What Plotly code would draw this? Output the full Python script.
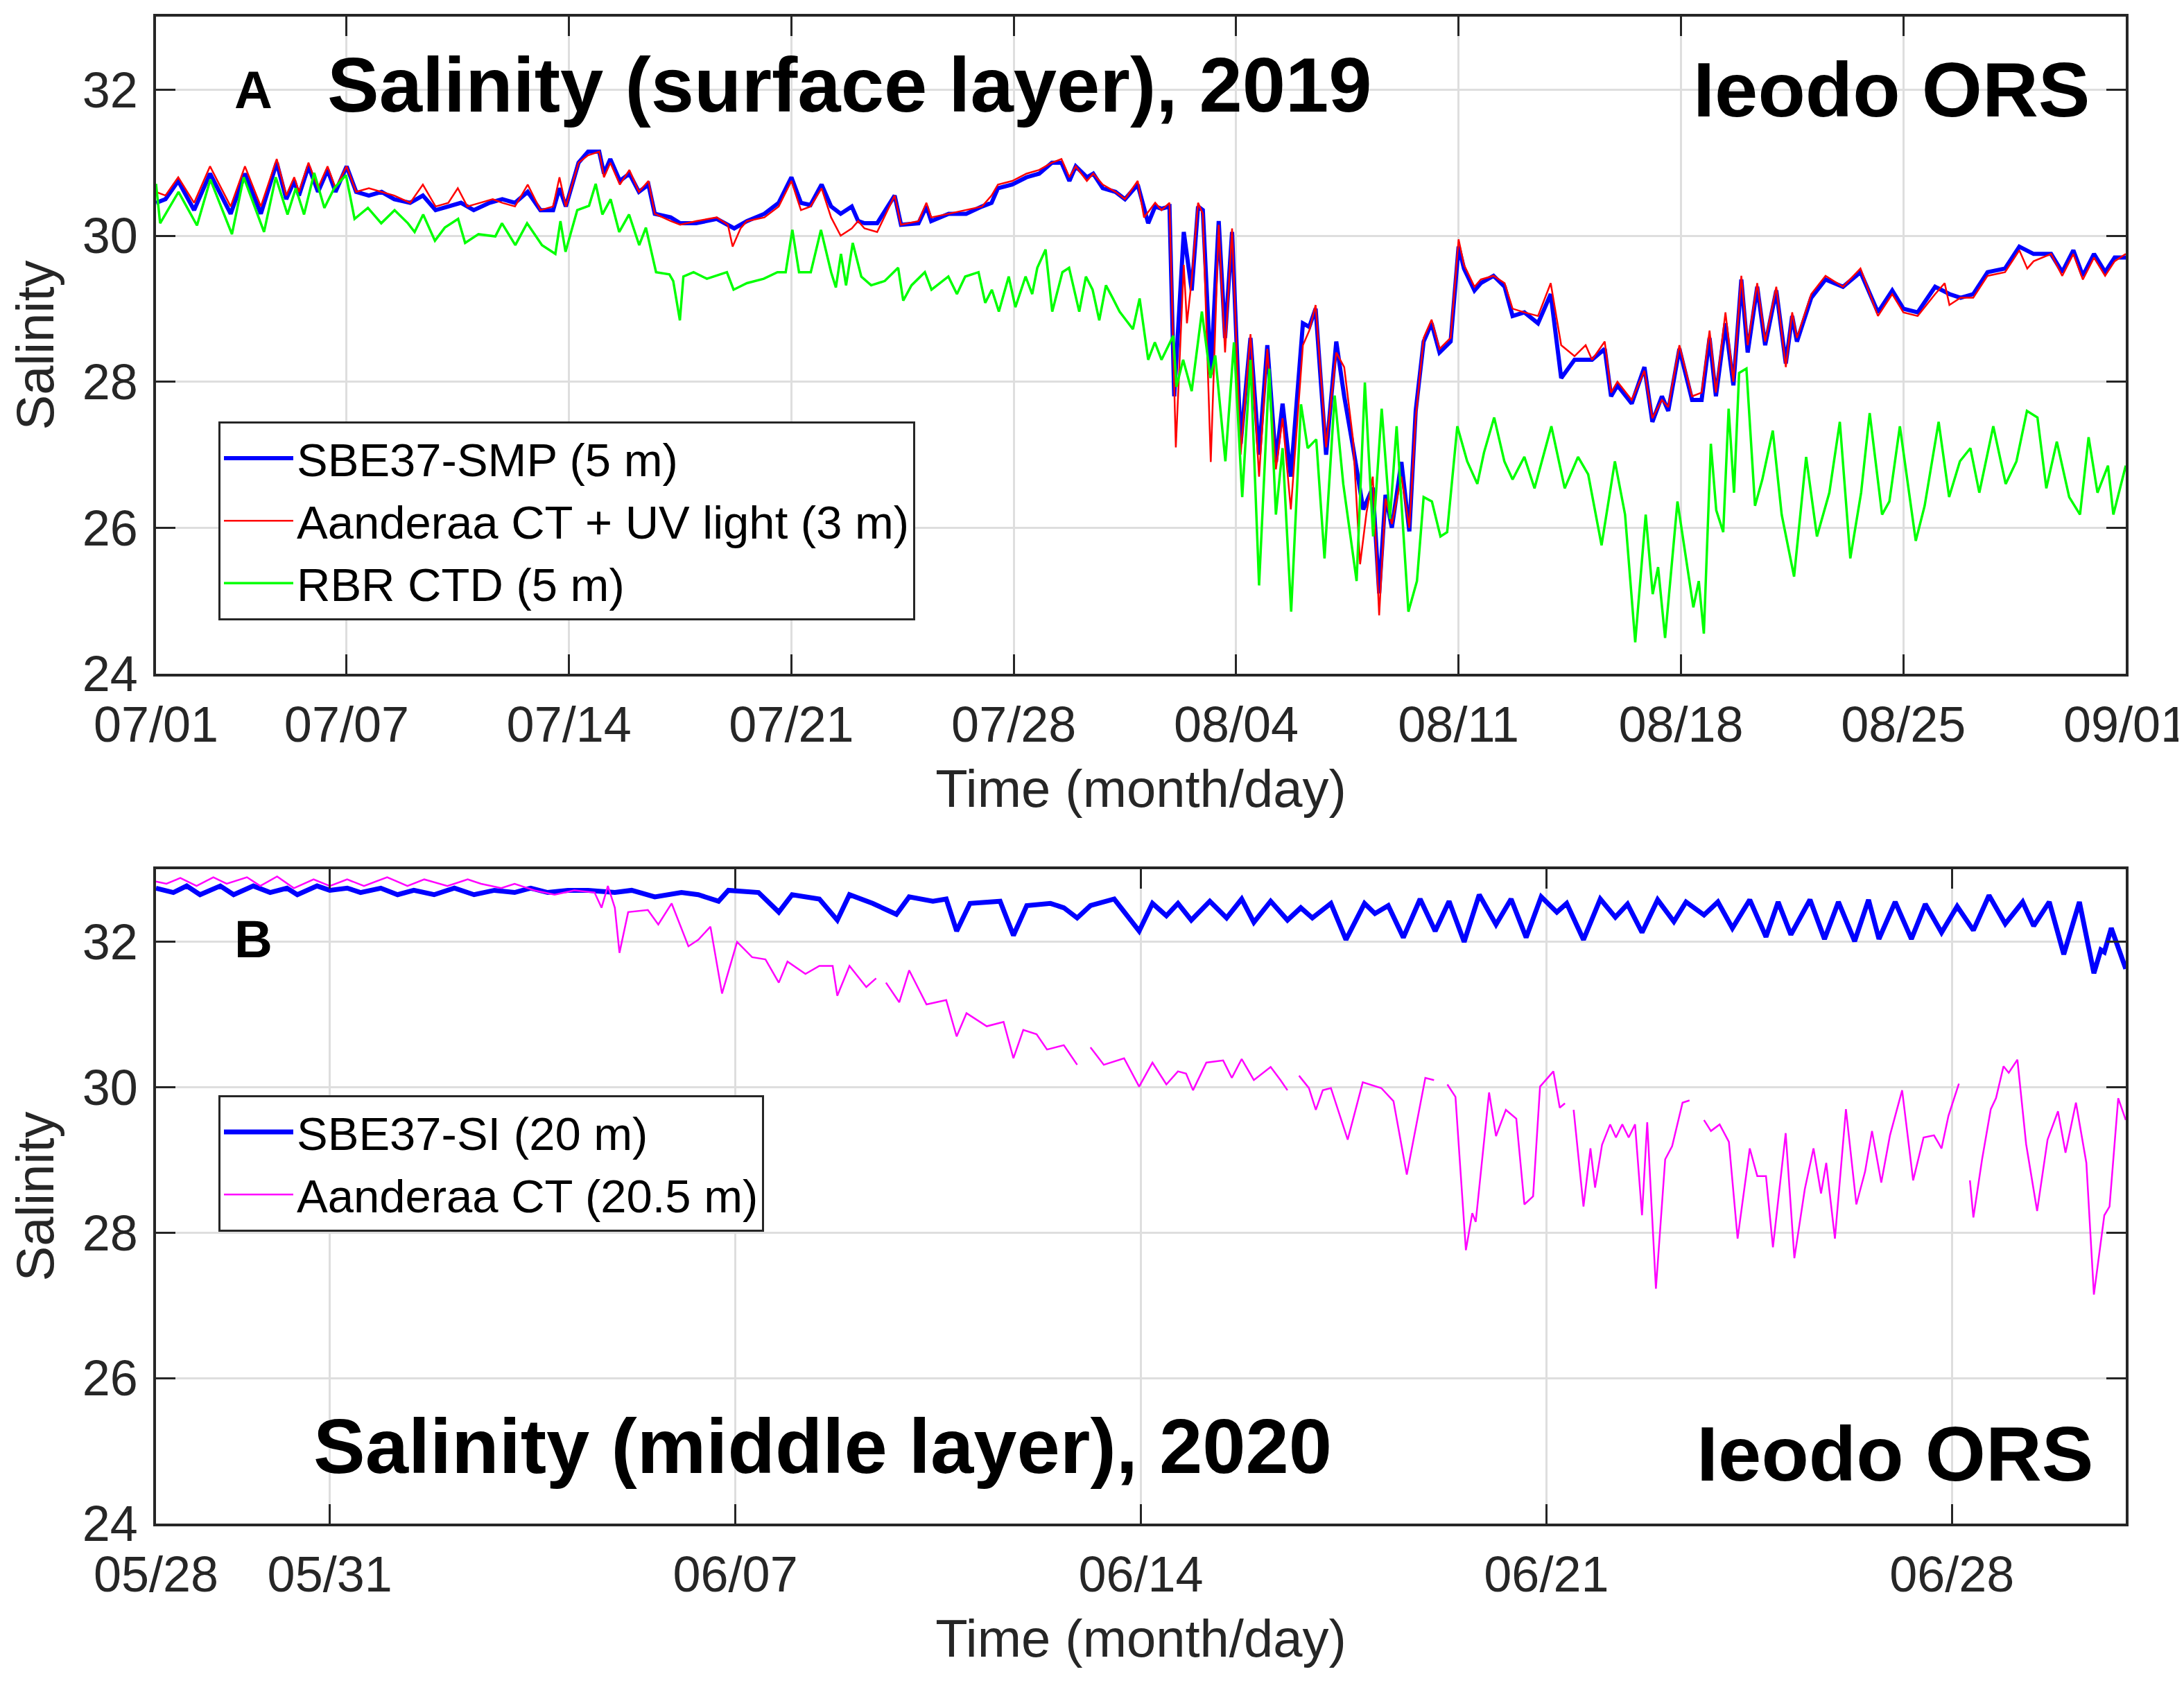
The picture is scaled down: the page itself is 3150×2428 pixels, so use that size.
import pandas as pd
import plotly.graph_objects as go
from plotly.subplots import make_subplots

# ---- panel A: surface layer, 2019 (days after 07/01 00:00) ----
smp_day = [0.0, 0.3, 0.7, 1.2, 1.7, 2.35, 2.8, 3.3, 3.8, 4.1, 4.35, 4.5, 4.8, 5.1, 5.4, 5.65, 6.0, 6.3,
           6.7, 7.1, 7.5, 8.0, 8.4, 8.8, 9.2, 9.6, 10.0, 10.5, 10.9, 11.3, 11.7, 12.1, 12.5, 12.7, 12.9,
           13.3, 13.6, 13.95, 14.1, 14.3, 14.6, 14.9, 15.2, 15.5, 15.7, 16.2, 16.5, 17.0, 17.65, 18.2,
           18.6, 19.15, 19.6, 20.0, 20.3, 20.6, 20.95, 21.25, 21.55, 21.9, 22.1, 22.3, 22.7, 23.25,
           23.45, 24.0, 24.25, 24.4, 24.95, 25.5, 26.0, 26.3, 26.5, 26.95, 27.4, 27.8, 28.2, 28.5,
           28.75, 28.95, 29.3, 29.5, 29.8, 30.2, 30.5, 30.9, 31.23, 31.45, 31.65, 31.9, 32.05, 32.35,
           32.6, 32.8, 32.95, 33.2, 33.45, 33.65, 33.87, 34.14, 34.45, 34.72, 34.98, 35.25, 35.46,
           35.72, 36.1, 36.3, 36.5, 36.83, 37.15, 37.4, 37.68, 38.0, 38.3, 38.5, 38.7, 38.9, 39.2,
           39.45, 39.65, 39.9, 40.15, 40.4, 40.75, 41.0, 41.17, 41.5, 41.7, 42.1, 42.45, 42.7, 43.07,
           43.5, 43.9, 44.23, 44.65, 45.2, 45.6, 45.8, 46.0, 46.45, 46.85, 47.1, 47.4, 47.6, 47.95,
           48.35, 48.65, 48.9, 49.1, 49.4, 49.65, 49.9, 50.1, 50.4, 50.65, 51.0, 51.3, 51.5, 51.65,
           52.1, 52.55, 53.1, 53.65, 54.2, 54.65, 55.0, 55.45, 56.0, 56.45, 56.8, 57.2, 57.65, 58.2,
           58.65, 59.1, 59.65, 60.0, 60.35, 60.65, 61.0, 61.35, 61.65, 62.0]
smp_sal = [30.45, 30.5, 30.75, 30.35, 30.85, 30.3, 30.85, 30.3, 31.0, 30.5, 30.75, 30.55, 30.95, 30.6,
           30.9, 30.6, 30.95, 30.6, 30.55, 30.6, 30.5, 30.45, 30.55, 30.35, 30.4, 30.45, 30.35, 30.45,
           30.5, 30.45, 30.6, 30.35, 30.35, 30.65, 30.4, 31.0, 31.15, 31.15, 30.85, 31.05, 30.75,
           30.85, 30.6, 30.7, 30.3, 30.25, 30.17, 30.17, 30.23, 30.1, 30.2, 30.3, 30.45, 30.8, 30.45,
           30.42, 30.7, 30.4, 30.3, 30.4, 30.2, 30.17, 30.17, 30.55, 30.15, 30.17, 30.4, 30.2, 30.3,
           30.3, 30.4, 30.45, 30.65, 30.7, 30.8, 30.85, 31.0, 31.0, 30.75, 30.95, 30.8, 30.85, 30.65,
           30.6, 30.5, 30.7, 30.17, 30.4, 30.37, 30.4, 27.8, 30.05, 29.25, 30.4, 30.35, 28.1, 30.2,
           28.6, 30.05, 27.15, 28.6, 27.0, 28.5, 26.9, 27.7, 26.7, 28.8, 28.75, 29.0, 27.0, 28.55,
           27.8, 27.1, 26.25, 26.55, 25.1, 26.45, 26.0, 26.9, 25.95, 27.6, 28.55, 28.8, 28.4, 28.55,
           29.85, 29.55, 29.25, 29.35, 29.45, 29.3, 28.9, 28.95, 28.8, 29.2, 28.05, 28.3, 28.3, 28.45,
           27.8, 27.95, 27.7, 28.2, 27.45, 27.8, 27.6, 28.45, 27.75, 27.75, 28.6, 27.8, 28.8, 27.95,
           29.4, 28.4, 29.3, 28.5, 29.25, 28.25, 28.9, 28.55, 29.15, 29.4, 29.3, 29.5, 28.95, 29.25,
           29.0, 28.95, 29.3, 29.2, 29.15, 29.2, 29.5, 29.55, 29.85, 29.75, 29.75, 29.5, 29.8, 29.45,
           29.75, 29.5, 29.7, 29.7]

uv_day = [0.0, 0.3, 0.7, 1.2, 1.7, 2.35, 2.8, 3.3, 3.8, 4.1, 4.35, 4.5, 4.8, 5.1, 5.4, 5.65, 6.0, 6.3,
          6.7, 7.1, 7.5, 8.0, 8.4, 8.8, 9.2, 9.5, 9.8, 10.2, 10.6, 10.9, 11.3, 11.7, 12.1, 12.5, 12.7,
          12.9, 13.3, 13.6, 13.95, 14.1, 14.3, 14.6, 14.9, 15.2, 15.5, 15.7, 16.2, 16.5, 17.0, 17.65,
          18.0, 18.15, 18.4, 18.6, 19.15, 19.6, 20.0, 20.3, 20.6, 20.95, 21.25, 21.55, 21.9, 22.1,
          22.3, 22.7, 23.25, 23.45, 24.0, 24.25, 24.4, 24.95, 25.5, 26.0, 26.3, 26.5, 26.95, 27.4,
          27.8, 28.2, 28.5, 28.75, 28.95, 29.3, 29.5, 29.8, 30.2, 30.5, 30.9, 31.1, 31.45, 31.65,
          31.9, 32.1, 32.35, 32.45, 32.6, 32.8, 32.95, 33.2, 33.45, 33.65, 33.87, 34.14, 34.45, 34.72,
          34.98, 35.25, 35.46, 35.72, 36.1, 36.3, 36.5, 36.83, 37.15, 37.4, 37.68, 37.9, 38.1, 38.3,
          38.5, 38.7, 38.9, 39.2, 39.45, 39.65, 39.9, 40.15, 40.4, 40.75, 41.0, 41.17, 41.5, 41.7,
          42.1, 42.45, 42.7, 43.07, 43.5, 43.9, 44.23, 44.65, 45.0, 45.2, 45.6, 45.8, 46.0, 46.45,
          46.85, 47.1, 47.4, 47.6, 47.95, 48.35, 48.65, 48.9, 49.1, 49.4, 49.65, 49.9, 50.1, 50.4,
          50.65, 51.0, 51.3, 51.5, 51.65, 52.1, 52.55, 53.1, 53.65, 54.2, 54.65, 55.0, 55.45, 56.0,
          56.3, 56.45, 56.8, 57.2, 57.65, 58.2, 58.65, 58.9, 59.1, 59.65, 60.0, 60.35, 60.65, 61.0,
          61.35, 61.65, 62.0]
uv_sal = [30.6, 30.55, 30.8, 30.45, 30.95, 30.4, 30.95, 30.4, 31.05, 30.55, 30.8, 30.6, 31.0, 30.65,
          30.95, 30.65, 30.95, 30.6, 30.65, 30.6, 30.55, 30.45, 30.7, 30.4, 30.45, 30.65, 30.4, 30.45,
          30.5, 30.45, 30.4, 30.7, 30.35, 30.4, 30.8, 30.4, 31.0, 31.1, 31.15, 30.8, 31.0, 30.7, 30.9,
          30.6, 30.75, 30.3, 30.2, 30.15, 30.2, 30.25, 30.15, 29.85, 30.1, 30.2, 30.25, 30.4, 30.75,
          30.35, 30.4, 30.65, 30.25, 30.0, 30.1, 30.2, 30.1, 30.05, 30.55, 30.15, 30.2, 30.45, 30.25,
          30.3, 30.35, 30.4, 30.55, 30.7, 30.75, 30.85, 30.9, 31.0, 31.05, 30.8, 30.95, 30.75, 30.85,
          30.7, 30.6, 30.5, 30.75, 30.25, 30.45, 30.35, 30.45, 27.1, 29.6, 28.8, 29.4, 30.45, 30.3,
          26.9, 30.15, 28.4, 30.1, 27.0, 28.65, 26.7, 28.45, 26.8, 27.5, 26.25, 28.5, 28.7, 29.05,
          27.1, 28.4, 28.2, 27.2, 25.5, 26.2, 26.7, 24.8, 26.4, 26.05, 26.7, 26.0, 27.5, 28.6, 28.85,
          28.45, 28.6, 29.95, 29.6, 29.3, 29.4, 29.45, 29.35, 29.0, 28.95, 28.9, 29.35, 28.5, 28.35,
          28.5, 28.3, 28.55, 27.85, 28.0, 27.75, 28.15, 27.5, 27.75, 27.65, 28.5, 27.8, 27.85, 28.7,
          27.85, 28.95, 28.0, 29.45, 28.5, 29.35, 28.55, 29.3, 28.2, 28.95, 28.6, 29.2, 29.45, 29.3,
          29.55, 28.9, 29.2, 28.95, 28.9, 29.2, 29.35, 29.05, 29.15, 29.15, 29.45, 29.5, 29.8, 29.55,
          29.65, 29.75, 29.45, 29.75, 29.4, 29.7, 29.45, 29.65, 29.75]

rbr_day = [0.0, 0.13, 0.71, 1.29, 1.71, 2.39, 2.76, 3.4, 3.77, 4.14, 4.4, 4.66, 4.98, 5.3, 5.61, 5.98,
           6.25, 6.67, 7.09, 7.51, 7.93, 8.14, 8.41, 8.78, 9.09, 9.51, 9.73, 10.15, 10.68, 10.89,
           11.31, 11.68, 12.15, 12.57, 12.73, 12.89, 13.26, 13.63, 13.84, 14.05, 14.31, 14.58, 14.89,
           15.21, 15.42, 15.74, 16.16, 16.28, 16.49, 16.6, 16.92, 17.34, 17.97, 18.18, 18.6, 19.13,
           19.56, 19.82, 20.03, 20.24, 20.61, 20.93, 21.25, 21.4, 21.56, 21.72, 21.93, 22.2, 22.51,
           22.94, 23.36, 23.52, 23.78, 24.2, 24.41, 24.94, 25.21, 25.47, 25.89, 26.1, 26.31, 26.53,
           26.84, 27.05, 27.37, 27.58, 27.74, 28.0, 28.21, 28.53, 28.74, 29.06, 29.27, 29.48, 29.69,
           29.9, 30.12, 30.33, 30.54, 30.75, 30.96, 31.23, 31.44, 31.65, 32.02, 32.12, 32.33, 32.6,
           32.92, 33.19, 33.34, 33.66, 33.93, 34.19, 34.45, 34.72, 35.04, 35.25, 35.46, 35.73, 36.04,
           36.25, 36.52, 36.78, 37.1, 37.37, 37.79, 38.05, 38.31, 38.58, 38.84, 39.05, 39.42, 39.69,
           39.9, 40.16, 40.43, 40.64, 40.96, 41.27, 41.59, 41.8, 42.12, 42.44, 42.7, 43.07, 43.39,
           43.92, 44.34, 44.76, 45.08, 45.5, 45.92, 46.24, 46.56, 46.89, 47.11, 47.28, 47.5, 47.89,
           48.39, 48.56, 48.72, 48.94, 49.11, 49.33, 49.5, 49.67, 49.83, 50.06, 50.33, 50.56, 50.89,
           51.17, 51.56, 51.94, 52.28, 52.67, 53.0, 53.33, 53.67, 53.94, 54.33, 54.56, 54.89, 55.39,
           55.67, 56.11, 56.44, 56.78, 57.11, 57.39, 57.83, 58.22, 58.56, 58.89, 59.22, 59.5, 59.83,
           60.22, 60.56, 60.83, 61.11, 61.44, 61.61, 62.0]
rbr_sal = [30.71, 30.17, 30.6, 30.14, 30.77, 30.02, 30.8, 30.05, 30.8, 30.29, 30.65, 30.29, 30.86,
           30.38, 30.65, 30.83, 30.23, 30.38, 30.17, 30.35, 30.17, 30.05, 30.29, 29.93, 30.11, 30.23,
           29.9, 30.02, 29.99, 30.17, 29.87, 30.17, 29.87, 29.75, 30.2, 29.78, 30.35, 30.41, 30.71,
           30.29, 30.5, 30.05, 30.29, 29.87, 30.11, 29.5, 29.47, 29.38, 28.84, 29.44, 29.5, 29.41,
           29.5, 29.26, 29.35, 29.41, 29.5, 29.5, 30.08, 29.5, 29.5, 30.08, 29.5, 29.29, 29.75, 29.32,
           29.9, 29.44, 29.32, 29.38, 29.56, 29.11, 29.32, 29.5, 29.26, 29.44, 29.2, 29.44, 29.5,
           29.08, 29.26, 28.96, 29.44, 29.02, 29.44, 29.2, 29.56, 29.81, 28.96, 29.5, 29.56, 28.96,
           29.44, 29.26, 28.84, 29.32, 29.14, 28.96, 28.84, 28.72, 29.14, 28.3, 28.54, 28.3, 28.63,
           27.93, 28.3, 27.87, 28.96, 28.05, 28.36, 26.91, 28.54, 26.42, 28.3, 25.21, 28.18, 26.18,
           27.09, 24.85, 27.69, 27.09, 27.21, 25.58, 27.81, 26.6, 25.27, 27.99, 25.88, 27.63, 26.12,
           27.39, 24.85, 25.27, 26.42, 26.36, 25.88, 25.94, 27.39, 26.91, 26.6, 27.03, 27.51, 26.91,
           26.66, 26.97, 26.54, 27.39, 26.54, 26.97, 26.73, 25.76, 26.91, 26.18, 24.43, 26.18, 25.09,
           25.46, 24.49, 26.36, 24.91, 25.27, 24.55, 27.15, 26.24, 25.94, 27.63, 26.48, 28.12, 28.18,
           26.3, 26.66, 27.33, 26.18, 25.33, 26.97, 25.88, 26.48, 27.45, 25.58, 26.48, 27.57, 26.18,
           26.36, 27.39, 25.82, 26.3, 27.45, 26.42, 26.91, 27.09, 26.48, 27.39, 26.6, 26.91, 27.6,
           27.51, 26.54, 27.18, 26.42, 26.18, 27.24, 26.48, 26.85, 26.18, 26.85]

# ---- panel B: middle layer, 2020 (days after 05/28 00:00), None = gap ----
si_day = [0.0, 0.3, 0.53, 0.76, 1.11, 1.34, 1.68, 1.97, 2.26, 2.44, 2.78, 3.0, 3.3, 3.53, 3.88, 4.17,
          4.45, 4.8, 5.15, 5.49, 5.84, 6.19, 6.47, 6.76, 7.11, 7.46, 7.92, 8.21, 8.61, 9.07, 9.36,
          9.71, 9.88, 10.4, 10.75, 10.98, 11.45, 11.76, 11.97, 12.37, 12.78, 13.0, 13.41, 13.64,
          13.82, 14.05, 14.57, 14.8, 15.03, 15.44, 15.67, 15.9, 16.13, 16.54, 16.97, 17.2, 17.44,
          17.64, 17.87, 18.19, 18.48, 18.74, 18.95, 19.24, 19.53, 19.76, 19.96, 20.28, 20.54, 20.86,
          21.04, 21.27, 21.53, 21.82, 22.08, 22.32, 22.58, 22.84, 23.13, 23.39, 23.65, 23.91, 24.18,
          24.35, 24.64, 24.93, 25.19, 25.4, 25.65, 25.92, 26.2, 26.41, 26.72, 26.96, 27.21, 27.51,
          27.79, 28.0, 28.22, 28.55, 28.8, 29.04, 29.32, 29.56, 29.74, 30.02, 30.3, 30.54, 30.82,
          31.09, 31.37, 31.64, 31.92, 32.22, 32.41, 32.68, 32.93, 33.2, 33.45, 33.57, 33.63, 33.75,
          34.0]
si_sal = [32.74, 32.68, 32.77, 32.65, 32.77, 32.65, 32.77, 32.68, 32.74, 32.65, 32.77, 32.71, 32.74,
          32.68, 32.74, 32.65, 32.71, 32.65, 32.74, 32.65, 32.71, 32.68, 32.74, 32.68, 32.71, 32.71,
          32.68, 32.71, 32.62, 32.68, 32.65, 32.56, 32.71, 32.68, 32.41, 32.65, 32.59, 32.3, 32.65,
          32.53, 32.38, 32.62, 32.56, 32.59, 32.15, 32.53, 32.56, 32.09, 32.5, 32.53, 32.47, 32.33,
          32.5, 32.59, 32.15, 32.53, 32.36, 32.53, 32.3, 32.56, 32.33, 32.59, 32.27, 32.56, 32.3,
          32.47, 32.33, 32.53, 32.03, 32.53, 32.39, 32.5, 32.06, 32.59, 32.15, 32.56, 32.0, 32.65,
          32.24, 32.59, 32.06, 32.62, 32.41, 32.53, 32.03, 32.59, 32.34, 32.52, 32.13, 32.58, 32.28,
          32.55, 32.37, 32.55, 32.19, 32.58, 32.07, 32.55, 32.1, 32.58, 32.04, 32.55, 32.01, 32.58,
          32.04, 32.55, 32.04, 32.52, 32.13, 32.49, 32.16, 32.64, 32.25, 32.55, 32.22, 32.55, 31.83,
          32.55, 31.57, 31.89, 31.86, 32.19, 31.63]

ct_day = [0.0, 0.18, 0.42, 0.7, 0.99, 1.22, 1.57, 1.8, 2.09, 2.38, 2.72, 3.0, 3.3, 3.59, 3.99, 4.34,
          4.63, 5.03, 5.38, 5.61, 5.96, 6.19, 6.53, 6.88, 7.22, 7.57, 7.69, 7.8, 7.92, 8.0, 8.15,
          8.49, 8.67, 8.9, 9.19, 9.36, 9.57, 9.77, 10.03, 10.29, 10.52, 10.75, 10.9, 11.21, 11.45,
          11.68, 11.76, 11.97, 12.26, 12.43, None, 12.6, 12.83, 13.0, 13.3, 13.64, 13.82, 13.99,
          14.34, 14.63, 14.8, 14.97, 15.2, 15.38, 15.67, 15.9, None, 16.13, 16.36, 16.71, 16.97,
          17.2, 17.44, 17.64, 17.78, 17.9, 18.13, 18.42, 18.57, 18.74, 18.95, 19.24, 19.41, 19.53,
          None, 19.73, 19.9, 20.02, 20.14, 20.28, 20.57, 20.83, 21.15, 21.36, 21.59, 21.91, 22.06,
          None, 22.29, 22.43, 22.61, 22.72, 22.78, 23.01, 23.13, 23.3, 23.48, 23.62, 23.77, 23.89,
          24.12, 24.23, 24.32, None, 24.47, 24.64, 24.76, 24.84, 24.96, 25.1, 25.2, 25.31, 25.42,
          25.53, 25.65, 25.74, 25.89, 26.05, 26.17, 26.35, 26.47, None, 26.72, 26.84, 26.99, 27.15,
          27.3, 27.51, 27.64, 27.79, 27.91, 28.13, 28.28, 28.46, 28.61, 28.74, 28.83, 28.98, 29.17,
          29.35, 29.5, 29.62, 29.78, 29.93, 30.14, 30.33, 30.51, 30.69, 30.82, 30.94, 31.12, None,
          31.31, 31.37, 31.52, 31.67, 31.76, 31.89, 31.98, 32.13, 32.28, 32.47, 32.65, 32.83, 32.96,
          33.14, 33.32, 33.45, 33.63, 33.72, 33.87, 34.0]
ct_sal = [32.83, 32.8, 32.88, 32.77, 32.89, 32.8, 32.89, 32.77, 32.9, 32.74, 32.86, 32.77, 32.86,
          32.77, 32.89, 32.77, 32.86, 32.77, 32.86, 32.8, 32.74, 32.8, 32.71, 32.65, 32.71, 32.68,
          32.47, 32.77, 32.47, 31.85, 32.41, 32.44, 32.24, 32.53, 31.94, 32.03, 32.21, 31.29, 32.0,
          31.79, 31.76, 31.44, 31.73, 31.56, 31.67, 31.67, 31.26, 31.67, 31.38, 31.5, None, 31.44,
          31.17, 31.61, 31.14, 31.2, 30.7, 31.02, 30.84, 30.9, 30.4, 30.79, 30.73, 30.52, 30.58,
          30.31, None, 30.55, 30.31, 30.4, 30.01, 30.34, 30.04, 30.22, 30.19, 29.96, 30.34, 30.37,
          30.13, 30.39, 30.1, 30.28, 30.1, 29.96, None, 30.16, 29.99, 29.69, 29.96, 29.99, 29.28,
          30.07, 29.99, 29.81, 28.8, 30.13, 30.1, None, 30.04, 29.87, 27.76, 28.27, 28.15, 29.93,
          29.33, 29.69, 29.57, 28.39, 28.5, 30.01, 30.22, 29.72, 29.78, None, 29.69, 28.36, 29.16,
          28.62, 29.21, 29.49, 29.31, 29.49, 29.31, 29.49, 28.24, 29.52, 27.23, 29.01, 29.19, 29.79,
          29.82, None, 29.55, 29.4, 29.49, 29.25, 27.92, 29.16, 28.78, 28.78, 27.8, 29.37, 27.65,
          28.6, 29.16, 28.54, 28.96, 27.92, 29.7, 28.39, 28.84, 29.4, 28.69, 29.34, 29.96, 28.72,
          29.31, 29.34, 29.16, 29.61, 30.05, None, 28.72, 28.21, 29.01, 29.7, 29.85, 30.29, 30.2,
          30.38, 29.22, 28.3, 29.28, 29.67, 29.1, 29.79, 28.96, 27.15, 28.24, 28.36, 29.85, 29.55]

ticks_a = ["2019-07-01", "2019-07-07", "2019-07-14", "2019-07-21", "2019-07-28",
           "2019-08-04", "2019-08-11", "2019-08-18", "2019-08-25", "2019-09-01"]
ticks_b = ["2020-05-28", "2020-05-31", "2020-06-07", "2020-06-14", "2020-06-21", "2020-06-28"]


def to_time(start, days):
    t0 = pd.Timestamp(start)
    return [t0 + pd.Timedelta(days=d) if d is not None else None for d in days]


W, H = 3150, 2428
FONT = "Liberation Sans"
AX = "#262626"
GRID = "#DEDEDE"

fig = make_subplots(rows=2, cols=1)

fig.add_trace(go.Scatter(x=to_time("2019-07-01", smp_day), y=smp_sal, mode="lines",
                         name="SBE37-SMP (5 m)", line=dict(color="#0000FF", width=6),
                         legend="legend"), row=1, col=1)
fig.add_trace(go.Scatter(x=to_time("2019-07-01", uv_day), y=uv_sal, mode="lines",
                         name="Aanderaa CT + UV light (3 m)", line=dict(color="#FF0000", width=2.5),
                         legend="legend"), row=1, col=1)
fig.add_trace(go.Scatter(x=to_time("2019-07-01", rbr_day), y=rbr_sal, mode="lines",
                         name="RBR CTD (5 m)", line=dict(color="#00FF00", width=3.5),
                         legend="legend"), row=1, col=1)

fig.add_trace(go.Scatter(x=to_time("2020-05-28", si_day), y=si_sal, mode="lines",
                         name="SBE37-SI (20 m)", line=dict(color="#0000FF", width=7),
                         legend="legend2"), row=2, col=1)
fig.add_trace(go.Scatter(x=to_time("2020-05-28", ct_day), y=ct_sal, mode="lines",
                         name="Aanderaa CT (20.5 m)", line=dict(color="#FF00FF", width=2.5),
                         connectgaps=False, legend="legend2"), row=2, col=1)

x0, x1 = 217 / W, 3058 / W
dom_a = [1 - 964 / H, 1 - 16 / H]
dom_b = [1 - 2190 / H, 1 - 1246 / H]

axis_common = dict(
    showline=True, linecolor=AX, linewidth=3.5, mirror="ticks",
    ticks="inside", ticklen=28, tickwidth=3, tickcolor=AX,
    showgrid=True, gridcolor=GRID, gridwidth=2.5, zeroline=False, automargin=False,
    ticklabeloverflow="allow",
    tickfont=dict(family=FONT, size=72, color=AX),
)

fig.update_xaxes(axis_common)
fig.update_yaxes(axis_common)

fig.update_xaxes(row=1, col=1, domain=[x0, x1], type="date",
                 range=["2019-07-01", "2019-09-01"], tickvals=ticks_a, tickformat="%m/%d",
                 ticklabelstandoff=8,
                 title=dict(text="Time (month/day)", font=dict(family=FONT, size=76, color=AX),
                            standoff=28))
fig.update_xaxes(row=2, col=1, domain=[x0, x1], type="date",
                 range=["2020-05-28", "2020-07-01"], tickvals=ticks_b, tickformat="%m/%d",
                 ticklabelstandoff=8,
                 title=dict(text="Time (month/day)", font=dict(family=FONT, size=76, color=AX),
                            standoff=28))
for r, dom in ((1, dom_a), (2, dom_b)):
    fig.update_yaxes(row=r, col=1, domain=dom, range=[24, 33], tickvals=[24, 26, 28, 30, 32],
                     ticklabelstandoff=8,
                     title=dict(text="Salinity", font=dict(family=FONT, size=76, color=AX),
                                standoff=22))

big = dict(family=FONT, size=112, color="black", weight="bold")
tag = dict(family=FONT, size=76, color="black", weight="bold")
notes = [
    ("x domain", "y domain", 0.0496, 0.889, "A", tag, "center"),
    ("x domain", "y domain", 0.0862, 0.8956, "Salinity (surface layer), 2019", big, "left"),
    ("x domain", "y domain", 0.9824, 0.889, "Ieodo ORS", big, "right"),
    ("x2 domain", "y2 domain", 0.0496, 0.894, "B", tag, "center"),
    ("x2 domain", "y2 domain", 0.0792, 0.1176, "Salinity (middle layer), 2020", big, "left"),
    ("x2 domain", "y2 domain", 0.984, 0.1066, "Ieodo ORS", big, "right"),
]
for xr, yr, xx, yy, txt, fnt, anc in notes:
    fig.add_annotation(xref=xr, yref=yr, x=xx, y=yy, text=txt, showarrow=False,
                       xanchor=anc, yanchor="middle", font=fnt)

leg = dict(xref="paper", yref="paper", xanchor="left", yanchor="top",
           bgcolor="white", bordercolor=AX, borderwidth=3, itemwidth=100,
           font=dict(family=FONT, size=67, color="black"))
fig.update_layout(
    width=W, height=H,
    margin=dict(l=0, r=0, t=0, b=0, autoexpand=False),
    paper_bgcolor="white", plot_bgcolor="white",
    legend=dict(leg, x=307 / W, y=1 - 600 / H),
    legend2=dict(leg, x=307 / W, y=1 - 1572 / H),
)

fig.write_html("out.html")
